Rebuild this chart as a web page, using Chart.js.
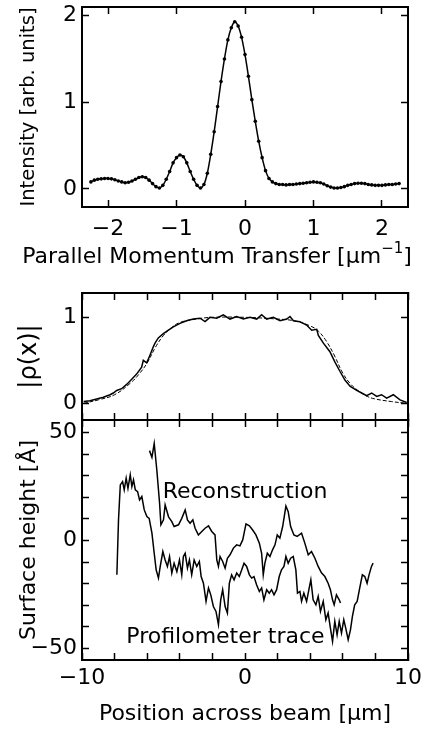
<!DOCTYPE html>
<html><head><meta charset="utf-8">
<script src="https://cdn.jsdelivr.net/npm/chart.js@4.4.1/dist/chart.umd.min.js"></script>
<style>
html,body{margin:0;padding:0;background:#fff;}
#wrap{position:relative;width:424px;height:730px;overflow:hidden;}
canvas{position:absolute;left:0;top:0;}
</style></head><body>
<div id="wrap">
<canvas id="c1" width="424" height="730"></canvas>
<canvas id="c2" width="424" height="730"></canvas>
<canvas id="c3" width="424" height="730"></canvas>
</div>
<script>
// ---------- Panel 1: diffraction intensity ----------
const qTransfer = [-2.25,-2.20,-2.15,-2.10,-2.05,-2.00,-1.95,-1.90,-1.85,-1.80,-1.75,-1.70,-1.65,-1.60,-1.55,-1.50,-1.45,-1.40,-1.35,-1.30,-1.25,-1.20,-1.15,-1.10,-1.05,-1.00,-0.95,-0.90,-0.85,-0.80,-0.75,-0.70,-0.65,-0.60,-0.55,-0.50,-0.45,-0.40,-0.35,-0.30,-0.25,-0.20,-0.15,-0.10,-0.05,0.00,0.05,0.10,0.15,0.20,0.25,0.30,0.35,0.40,0.45,0.50,0.55,0.60,0.65,0.70,0.75,0.80,0.85,0.90,0.95,1.00,1.05,1.10,1.15,1.20,1.25,1.30,1.35,1.40,1.45,1.50,1.55,1.60,1.65,1.70,1.75,1.80,1.85,1.90,1.95,2.00,2.05,2.10,2.15,2.20,2.25];
const intensity = [0.08,0.10,0.11,0.115,0.12,0.12,0.115,0.105,0.09,0.08,0.07,0.075,0.09,0.11,0.13,0.14,0.13,0.10,0.06,0.025,0.01,0.04,0.11,0.20,0.30,0.36,0.39,0.37,0.30,0.20,0.11,0.04,0.01,0.05,0.18,0.40,0.66,0.95,1.24,1.50,1.72,1.86,1.93,1.88,1.75,1.55,1.30,1.03,0.78,0.55,0.36,0.21,0.12,0.08,0.06,0.05,0.05,0.045,0.05,0.05,0.055,0.06,0.065,0.07,0.075,0.08,0.075,0.07,0.055,0.035,0.02,0.01,0.01,0.015,0.025,0.04,0.05,0.06,0.065,0.065,0.06,0.05,0.045,0.04,0.04,0.04,0.045,0.05,0.05,0.055,0.06];
const qTicks = [-2,-1,0,1,2];
const intensityTicks = [0,1,2];

// ---------- Panel 2: |rho(x)| ----------
const posRho = [-9.9,-9.51,-9.1,-8.69,-8.28,-8.08,-7.87,-7.57,-7.26,-6.95,-6.65,-6.34,-6.24,-6.03,-5.83,-5.62,-5.52,-5.32,-5.01,-4.7,-4.4,-3.99,-3.58,-3.17,-2.76,-2.45,-2.15,-1.74,-1.33,-0.92,-0.51,-0.1,0.31,0.72,1.02,1.33,1.74,2.15,2.56,2.76,2.97,3.37,3.78,4.09,4.4,4.5,4.81,5.21,5.52,5.83,6.13,6.44,6.85,7.16,7.46,7.77,8.08,8.38,8.69,9.1,9.51,9.92];
const rhoReconstructed = [0.02,0.03,0.05,0.07,0.1,0.12,0.15,0.17,0.22,0.28,0.34,0.42,0.5,0.47,0.56,0.66,0.7,0.76,0.81,0.85,0.89,0.93,0.96,0.98,0.99,0.95,1.0,0.99,1.03,0.98,1.01,0.98,1.0,0.98,1.03,0.98,1.0,0.96,0.98,1.01,0.96,0.95,0.91,0.85,0.86,0.79,0.7,0.6,0.48,0.37,0.27,0.2,0.15,0.12,0.09,0.12,0.08,0.1,0.06,0.1,0.04,0.01];
const posRhoModel = [-9.9,-9,-8,-7,-6.5,-6,-5.5,-5,-4.5,-4,-3,-2,0,2,3,4,4.5,5,5.5,6,6.5,7,7.5,8,9,9.9];
const rhoModel = [0.0,0.04,0.1,0.24,0.34,0.47,0.65,0.79,0.88,0.94,0.98,1.0,1.0,0.98,0.96,0.9,0.84,0.72,0.55,0.35,0.22,0.14,0.08,0.05,0.02,0.0];
const rhoTicks = [0,1];

// ---------- Panel 3: surface height ----------
const posRecon = [-5.86,-5.71,-5.57,-5.41,-5.24,-5.16,-5.0,-4.9,-4.69,-4.49,-4.35,-4.08,-3.88,-3.67,-3.53,-3.37,-3.2,-3.06,-2.86,-2.65,-2.45,-2.24,-2.04,-1.84,-1.73,-1.63,-1.53,-1.37,-1.22,-1.08,-0.92,-0.71,-0.51,-0.31,-0.14,0.06,0.27,0.47,0.67,0.88,1.02,1.12,1.22,1.37,1.53,1.69,1.84,1.98,2.14,2.31,2.51,2.65,2.8,3.0,3.2,3.47,3.67,3.88,4.08,4.29,4.49,4.69,4.9,5.1,5.24,5.37,5.47,5.61,5.78,5.86];
const heightRecon = [41.7,38.6,45,32.7,17.3,7.3,9.6,16.5,11,8.8,6.5,7.3,10.3,14.2,9.6,8,9.6,5.7,2.6,4.2,5.7,6.8,4.2,2.6,-9,-12,-7.4,-9.7,-12.8,-8.2,-6.6,-3.5,-2,-2.5,0.3,7.7,6.8,4.9,2.6,-1.2,-5.9,-15.9,-10.5,-5.9,-7.4,-4.3,-2,2.6,1.1,6.5,16,13.4,6.5,2.6,1.9,3.4,-1.2,-6.6,-5.1,-8.2,-12,-15,-16.7,-19.8,-22.8,-27.5,-29.8,-25.2,-27.5,-29];
const posProfile = [-7.86,-7.76,-7.65,-7.51,-7.41,-7.29,-7.18,-7.04,-6.94,-6.84,-6.73,-6.59,-6.47,-6.33,-6.18,-6.02,-5.88,-5.71,-5.57,-5.45,-5.31,-5.2,-5.04,-4.9,-4.76,-4.63,-4.49,-4.35,-4.18,-4.02,-3.88,-3.78,-3.67,-3.53,-3.41,-3.27,-3.12,-2.96,-2.8,-2.69,-2.55,-2.39,-2.24,-2.1,-1.94,-1.78,-1.63,-1.49,-1.37,-1.22,-1.08,-0.96,-0.82,-0.67,-0.51,-0.35,-0.2,-0.06,0.1,0.27,0.41,0.55,0.71,0.88,1.02,1.16,1.33,1.49,1.63,1.78,1.94,2.1,2.24,2.39,2.51,2.65,2.8,2.96,3.12,3.22,3.37,3.47,3.61,3.78,3.94,4.04,4.18,4.35,4.49,4.63,4.8,4.96,5.1,5.24,5.37,5.51,5.65,5.78,5.92,6.06,6.18,6.33,6.47,6.59,6.73,6.88,7.04,7.2,7.35,7.49,7.61,7.76,7.86];
const heightProfile = [-15.9,9.6,25.8,27.3,23.5,28.9,24.2,30.4,25,28.1,23.5,22.7,18.8,20.4,14.2,11.1,10.3,3.4,-5.9,-13.6,-17.4,-12,-5.1,-9,-12,-7.4,-15.1,-10.5,-14.4,-9,-15.9,-7.4,-5.9,-12.8,-9,-15.9,-9,-12,-9.7,-16.7,-19.8,-28.2,-22,-25.2,-30.6,-32.9,-39,-27.5,-22.8,-30.6,-33.6,-19.8,-15.9,-18.2,-15.1,-16.7,-13.6,-10.5,-12,-15.9,-17.4,-16.7,-20.5,-23.6,-22,-27.5,-22.8,-24.4,-22.8,-25.2,-22.8,-16.7,-13.6,-12,-7.4,-10.5,-8.2,-7.4,-13.6,-24.4,-23.6,-28.2,-24.4,-28.2,-22,-18.2,-27.5,-29.8,-25.9,-32.9,-28.2,-36.7,-33.6,-40.6,-46.8,-37.5,-43.7,-37.5,-42.9,-36.7,-40.6,-46,-41.4,-35.2,-29.8,-28.2,-22,-15.9,-16.7,-19.8,-15.9,-12,-10.5];
const posTicks = [-10,-8,-6,-4,-2,0,2,4,6,8,10];
const posLabels = [-10,0,10];
const heightTicks = [-50,-40,-30,-20,-10,0,10,20,30,40,50];
const heightLabels = [-50,0,50];

// ---------- helpers ----------
const FONT = "'DejaVu Sans', 'Liberation Sans', sans-serif";
const TICK_FONT = {family: FONT, size: 22};
const fmt = v => String(v).replace('-', '\u2212');
const pts = (xs, ys) => xs.map((x, i) => ({x, y: ys[i]}));

function axis(o) {
  const horiz = o.position === 'top' || o.position === 'bottom';
  return {
    type: 'linear', position: o.position, min: o.min, max: o.max,
    afterBuildTicks: s => { s.ticks = o.ticks.map(v => ({value: v})); },
    afterFit: s => {
      if (horiz) { s.height = o.size; s.paddingLeft = 0; s.paddingRight = 0; }
      else { s.width = o.size; s.paddingTop = 0; s.paddingBottom = 0; }
    },
    grid: {drawOnChartArea: false, drawTicks: true, tickLength: -7, tickWidth: 1.5, tickColor: '#000'},
    border: {display: true, color: '#000', width: 2},
    ticks: {
      display: !!o.labels, autoSkip: false, maxRotation: 0, minRotation: 0,
      padding: o.labelPad || 0, color: '#000', font: TICK_FONT,
      callback: v => (o.labels && o.labels.includes(v)) ? fmt(v) : ''
    },
    title: o.title ? {display: true, text: o.title, color: '#000', font: {family: FONT, size: o.titleSize || 22}, padding: o.titlePad} : {display: false}
  };
}

const freeText = {
  id: 'freeText',
  afterDraw(chart, args, opts) {
    const ctx = chart.ctx;
    (opts.items || []).forEach(it => {
      ctx.save();
      ctx.fillStyle = '#000';
      ctx.textBaseline = 'middle';
      const sz = it.size || 22;
      ctx.font = sz + 'px ' + FONT;
      const px = it.dataX !== undefined ? chart.scales.x.getPixelForValue(it.dataX) : it.px;
      const py = it.dataY !== undefined ? chart.scales.y.getPixelForValue(it.dataY) : it.py;
      if (it.sup) {
        const w1 = ctx.measureText(it.text).width;
        ctx.font = Math.round(sz * 0.7) + 'px ' + FONT;
        const w2 = ctx.measureText(it.sup).width;
        ctx.font = sz + 'px ' + FONT;
        const w3 = ctx.measureText(it.after).width;
        const x0 = px - (w1 + w2 + w3) / 2;
        ctx.textAlign = 'left';
        ctx.fillText(it.text, x0, py);
        ctx.font = Math.round(sz * 0.7) + 'px ' + FONT;
        ctx.fillText(it.sup, x0 + w1, py - sz * 0.38);
        ctx.font = sz + 'px ' + FONT;
        ctx.fillText(it.after, x0 + w1 + w2, py);
      } else {
        ctx.textAlign = 'center';
        ctx.fillText(it.text, px, py);
      }
      ctx.restore();
    });
  }
};

const base = {
  responsive: false, animation: false, devicePixelRatio: 1,
  plugins: {legend: {display: false}, tooltip: {enabled: false}},
  elements: {line: {tension: 0}}
};

// ---------- Chart 1 ----------
new Chart(document.getElementById('c1'), {
  type: 'scatter',
  data: {datasets: [{
    data: pts(qTransfer, intensity), showLine: true,
    borderColor: '#000', borderWidth: 1.5, pointRadius: 1.8,
    pointBackgroundColor: '#000', pointBorderWidth: 0, tension: 0.3
  }]},
  plugins: [freeText],
  options: Object.assign({}, base, {
    layout: {padding: {left: 0, right: 16, top: 7, bottom: 455}},
    plugins: Object.assign({}, base.plugins, {freeText: {items: [
      {px: 217, py: 257, text: 'Parallel Momentum Transfer [\u03BCm', sup: '\u22121', after: ']', size: 22}
    ]}}),
    scales: {
      x: axis({position: 'bottom', min: -2.38, max: 2.38, ticks: qTicks, labels: qTicks, size: 68, labelPad: 16}),
      x2: axis({position: 'top', min: -2.38, max: 2.38, ticks: qTicks, size: 0}),
      y: axis({position: 'left', min: -0.21, max: 2.1, ticks: intensityTicks, labels: intensityTicks, size: 82, labelPad: 12,
        title: 'Intensity [arb. units]', titleSize: 19.5, titlePad: {top: 17, bottom: 0}}),
      y2: axis({position: 'right', min: -0.21, max: 2.1, ticks: intensityTicks, size: 0})
    }
  })
});

// ---------- Chart 2 ----------
new Chart(document.getElementById('c2'), {
  type: 'scatter',
  data: {datasets: [
    {data: pts(posRho, rhoReconstructed), showLine: true, borderColor: '#000', borderWidth: 1.5, pointRadius: 0},
    {data: pts(posRhoModel, rhoModel), showLine: true, borderColor: '#000', borderWidth: 1, borderDash: [4, 2], pointRadius: 0, tension: 0.4}
  ]},
  options: Object.assign({}, base, {
    layout: {padding: {left: 0, right: 16, top: 293, bottom: 310}},
    scales: {
      x: axis({position: 'bottom', min: -10, max: 10, ticks: posTicks, size: 0}),
      x2: axis({position: 'top', min: -10, max: 10, ticks: posTicks, size: 0}),
      y: axis({position: 'left', min: -0.194, max: 1.283, ticks: rhoTicks, labels: rhoTicks, size: 82, labelPad: 12,
        title: '|\u03C1(x)|', titleSize: 24, titlePad: {top: 15, bottom: 0}}),
      y2: axis({position: 'right', min: -0.194, max: 1.283, ticks: rhoTicks, size: 0})
    }
  })
});

// ---------- Chart 3 ----------
new Chart(document.getElementById('c3'), {
  type: 'scatter',
  data: {datasets: [
    {data: pts(posRecon, heightRecon), showLine: true, borderColor: '#000', borderWidth: 1.5, pointRadius: 0},
    {data: pts(posProfile, heightProfile), showLine: true, borderColor: '#000', borderWidth: 1.5, pointRadius: 0}
  ]},
  plugins: [freeText],
  options: Object.assign({}, base, {
    layout: {padding: {left: 0, right: 16, top: 420, bottom: 0}},
    plugins: Object.assign({}, base.plugins, {freeText: {items: [
      {dataX: 0.0, dataY: 22.5, text: 'Reconstruction', size: 22},
      {dataX: -1.2, dataY: -45, text: 'Profilometer trace', size: 22}
    ]}}),
    scales: {
      x: axis({position: 'bottom', min: -10, max: 10, ticks: posTicks, labels: posLabels, size: 70, labelPad: 12,
        title: 'Position across beam [\u03BCm]', titlePad: {top: 0, bottom: 3}}),
      x2: axis({position: 'top', min: -10, max: 10, ticks: posTicks, size: 0}),
      y: axis({position: 'left', min: -55.4, max: 55.9, ticks: heightTicks, labels: heightLabels, size: 82, labelPad: 12,
        title: 'Surface height [\u00C5]', titlePad: {top: 16, bottom: 0}}),
      y2: axis({position: 'right', min: -55.4, max: 55.9, ticks: heightTicks, size: 0})
    }
  })
});
</script>
</body></html>
